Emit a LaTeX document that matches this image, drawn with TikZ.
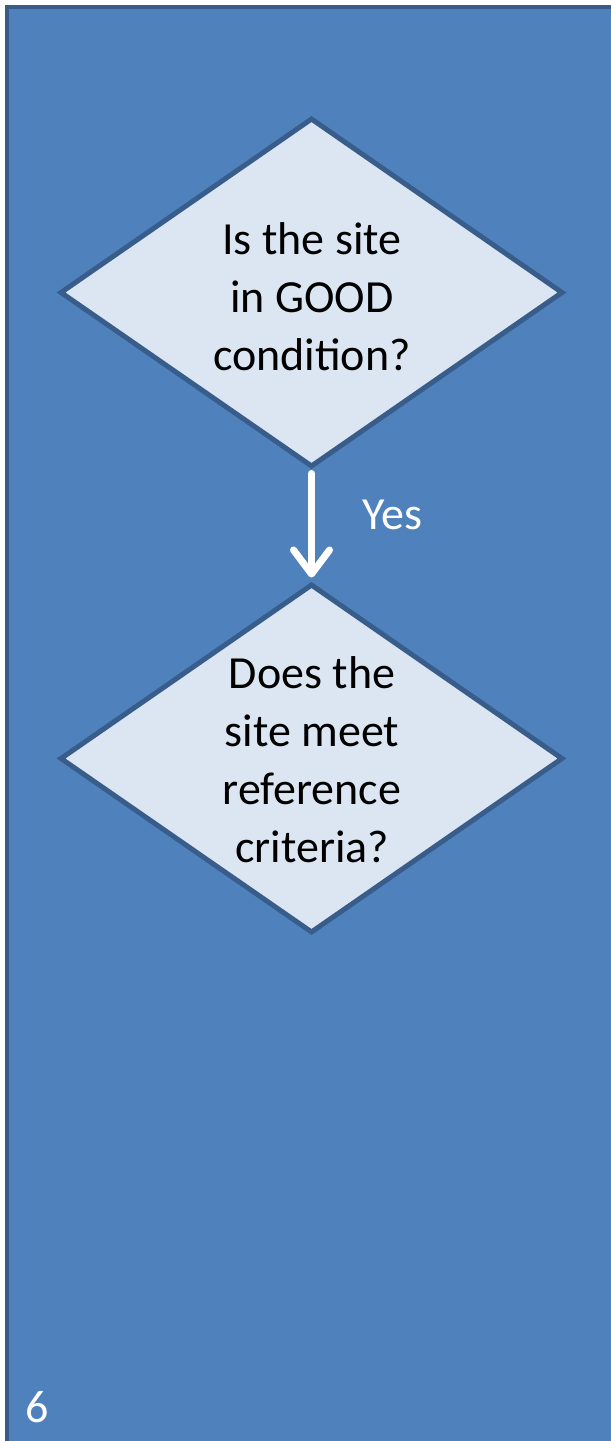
\documentclass[tikz,border=0pt]{standalone}
\usepackage{fontspec}
\setmainfont{Carlito}
\usetikzlibrary{shapes.geometric,arrows.meta}
\definecolor{bg}{HTML}{4F81BD}
\definecolor{edgeblue}{HTML}{385D8A}
\definecolor{dfill}{HTML}{DCE6F2}
\tikzset{
  decision/.style={diamond, draw=edgeblue, fill=dfill, line width=5bp, inner sep=0pt,
    minimum width=503bp, minimum height=349bp},
  dtext/.style={align=center, text=black, font=\fontsize{46bp}{58bp}\selectfont},
  wtext/.style={text=white, font=\fontsize{46bp}{58bp}\selectfont},
  flow/.style={white, line width=7bp, line cap=round,
    -{Straight Barb[length=24bp, width=36bp, line cap=round, line join=round]}}
}
\begin{document}
\begin{tikzpicture}[x=1bp,y=-1bp]
\useasboundingbox (0,0) rectangle (611,1441);
\clip (0,0) rectangle (611,1441);
\draw[edgeblue, line width=4.5bp, fill=bg] (7,7) rectangle (680,1520);
\node[decision] (d1) at (311.5,292.5) {};
\node[decision] (d2) at (311.5,758.5) {};
\node[dtext] (t1) at (312,297) {Is the site\\in GOOD\\condition?};
\node[dtext] (t2) at (312,760) {Does the\\site meet\\reference\\criteria?};
\draw[flow, shorten <=4bp, shorten >=4bp] (d1.south) -- (d2.north);
\node[wtext] (yes) at (392,515) {Yes};
\node[wtext] (pg) at (37,1407) {6};
\end{tikzpicture}
\end{document}
